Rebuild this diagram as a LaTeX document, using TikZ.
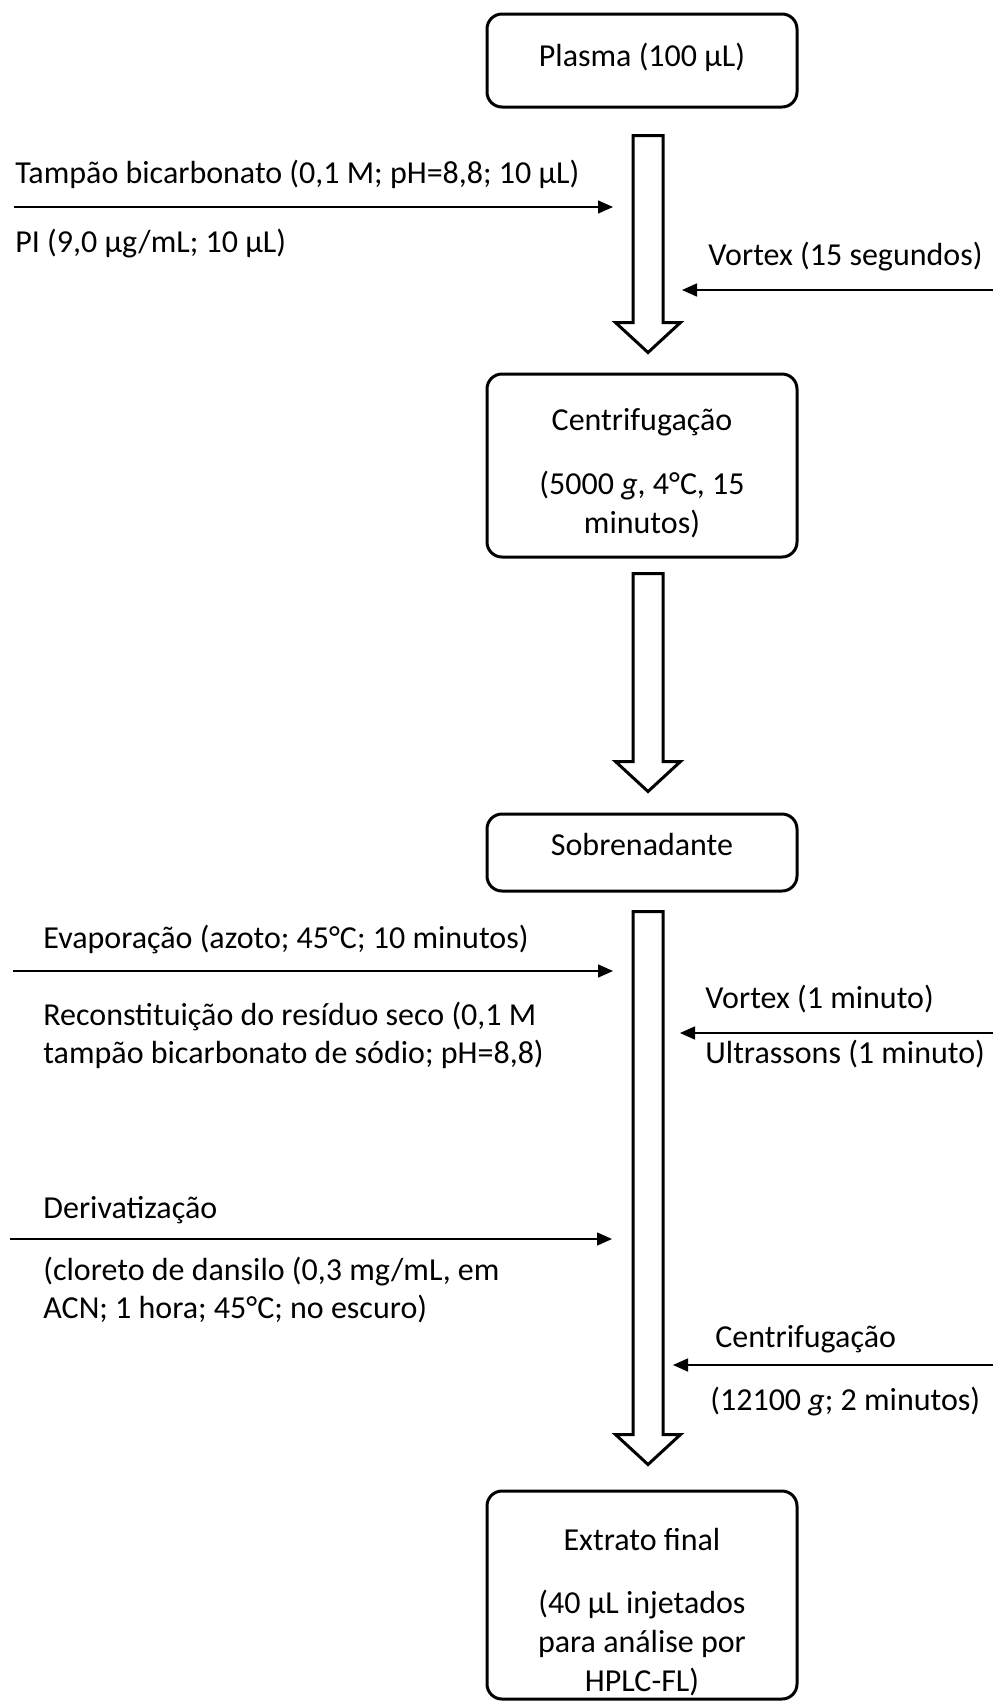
\documentclass[tikz,border=0pt]{standalone}
\usepackage{fontspec}
\setmainfont{Carlito}
\usepackage{tikz}
\usetikzlibrary{arrows.meta,positioning,calc}

\begin{document}
\begin{tikzpicture}[
    x=0.5pt, y=-0.5pt,
    font=\fontsize{16pt}{19pt}\selectfont,
    box/.style={draw, line width=1.5pt, rounded corners=7.5pt, align=center,
                minimum width=155pt, font=\fontsize{16pt}{19.5pt}\selectfont},
    lbl/.style={inner sep=0pt, anchor=base west, align=left},
    arr/.style={-{Triangle[length=7.5pt,width=6.5pt]}, line width=0.75pt},
    fat/.style={line width=1.5pt, line join=miter}
]
\useasboundingbox (0,0) rectangle (993,1704);

\node[box, minimum height=46.5pt, text height=11pt, text depth=5.5pt] (plasma) at (642,60.5)
    {Plasma (100 µL)};

\node[box, minimum height=91.5pt, text height=67.5pt, text depth=0pt] (centri) at (642,465.5)
    {Centrifugação\\[12.5pt]
     (5000 \textit{g}, 4°C, 15\\
     minutos)};

\node[box, minimum height=38.5pt, text height=10pt, text depth=7.5pt] (sobre) at (642,852.5)
    {Sobrenadante};

\node[box, minimum height=104pt, text height=96pt, text depth=0pt] (extrato) at (642,1595)
    {Extrato final\\[12pt]
     (40 µL injetados\\
     para análise por\\
     HPLC-FL)};

\foreach \a/\b/\g/\h in {plasma/centri/27/20,centri/sobre/15/21,sobre/extrato/19/25}{
    \draw[fat] let \p1=($(\a.south)+(6,\g)$), \p2=($(\b.north)+(6,-\h)$) in
        (\x1-7.5pt,\y1) -- (\x1+7.5pt,\y1) -- (\x1+7.5pt,\y2+15pt)
        -- (\x1+16.25pt,\y2+15pt) -- (\x1,\y2) -- (\x1-16.25pt,\y2+15pt)
        -- (\x1-7.5pt,\y2+15pt) -- cycle;
}

\node[lbl] (tampao) at (15,183) {Tampão bicarbonato (0,1 M; pH=8,8; 10 µL)};
\node[lbl] (pi) at (15,252) {PI (9,0 µg/mL; 10 µL)};
\node[lbl] (vortexa) at (708,265) {Vortex (15 segundos)};

\node[lbl] (evap) at (43,948) {Evaporação (azoto; 45°C; 10 minutos)};
\node[lbl] (recon) at (43,1063)
    {Reconstituição do resíduo seco (0,1 M\\
     tampão bicarbonato de sódio; pH=8,8)};
\node[lbl] (vortexb) at (705,1008) {Vortex (1 minuto)};
\node[lbl] (ultra) at (705,1063) {Ultrassons (1 minuto)};

\node[lbl] (deriv) at (43,1218) {Derivatização};
\node[lbl] (cloreto) at (43,1318)
    {(cloreto de dansilo (0,3 mg/mL, em\\
     ACN; 1 hora; 45°C; no escuro)};
\node[lbl] (centrib) at (715,1347) {Centrifugação};
\node[lbl] (rot) at (710,1410) {(12100 \textit{g}; 2 minutos)};

\coordinate (s1) at (14,207);   \coordinate (e1) at (613,207);
\coordinate (s2) at (993,290);  \coordinate (e2) at (682,290);
\coordinate (s3) at (13,971);   \coordinate (e3) at (613,971);
\coordinate (s4) at (993,1033); \coordinate (e4) at (680,1033);
\coordinate (s5) at (10,1239);  \coordinate (e5) at (612,1239);
\coordinate (s6) at (993,1365); \coordinate (e6) at (673,1365);

\foreach \n in {1,...,6}{
    \draw[arr] (s\n) -- (e\n);
}

\end{tikzpicture}
\end{document}
